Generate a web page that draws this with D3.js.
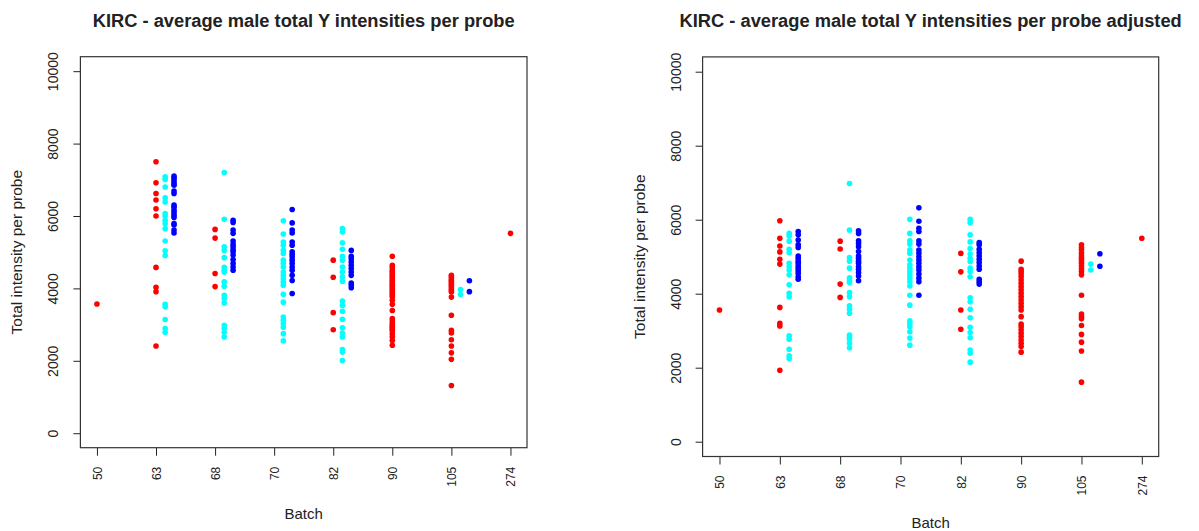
<!DOCTYPE html>
<html>
<head>
<meta charset="utf-8">
<script src="https://cdn.jsdelivr.net/npm/d3@7"></script>
<style>
    body { margin: 0; background: #fff; }
    svg text { font-family: "Liberation Sans", Arial, sans-serif; fill: #222; }
</style>
</head>
<body>
<svg id="chart" width="1199" height="531"></svg>
<script>
// batch labels along the x axis (one slot per batch)
const batches = ["50", "63", "68", "70", "82", "90", "105", "274"];
const yTicks = [0, 2000, 4000, 6000, 8000, 10000];

// raw values, one list per batch, per group
const rawA = [
    [3570],
    [7500, 6920, 6620, 6440, 6200, 6000, 4580, 4030, 3910, 2410],
    [5630, 5390, 4410, 4050],
    [],
    [4780, 4310, 3330, 2860],
    [4890, 4640, 4580, 4500, 4460, 4410, 4360, 4320, 4270, 4220, 4180, 4130, 4090, 4040, 3990, 3950,
     3900, 3860, 3810, 3760, 3670, 3560, 3390, 3170, 3100, 3030, 2980, 2930, 2880, 2840, 2750, 2660, 2560, 2430],
    [4360, 4320, 4270, 4220, 4180, 4130, 4090, 4040, 3990, 3940, 3900, 3760, 3260, 2840, 2770, 2580, 2410, 2220, 2040, 1320],
    [5520]
];
const rawB = [
    [],
    [7080, 7010, 6800, 6500, 6390, 6070, 6000, 5880, 5790, 5650, 5310, 5040, 4910, 3560, 3490, 3140, 2890, 2790],
    [7200, 5910, 5150, 5050, 4850, 4580, 4500, 4450, 4180, 4060, 3810, 3720, 3600, 2980, 2890, 2790, 2660],
    [5870, 5500, 5280, 5190, 5050, 4960, 4780, 4690, 4590, 4450, 4360, 4270, 4180, 4090, 3840, 3620, 3210, 3120, 3030, 2930, 2750, 2550],
    [5650, 5560, 5260, 5080, 4890, 4780, 4590, 4450, 4320, 4200, 3650, 3530, 3370, 3150, 2910, 2770, 2660, 2310, 2240, 2010],
    [],
    [3970, 3830],
    []
];
const rawC = [
    [],
    [7100, 7040, 6970, 6900, 6850, 6690, 6620, 6300, 6240, 6160, 6090, 6020, 5960, 5790, 5750, 5610, 5530],
    [5880, 5820, 5610, 5520, 5310, 5220, 5150, 5070, 5010, 4920, 4800, 4690, 4590, 4500],
    [6180, 5810, 5610, 5530, 5280, 5190, 5010, 4940, 4870, 4780, 4690, 4590, 4500, 4360, 4220, 3860],
    [5050, 4890, 4820, 4730, 4640, 4550, 4450, 4360, 4150, 4090, 4020],
    [],
    [4210, 3910],
    []
];

// adjusted values
const adjA = [
    [3560],
    [5970, 5500, 5290, 5130, 4930, 4800, 3630, 3200, 3130, 1930],
    [5420, 5210, 4260, 3900],
    [],
    [5090, 4590, 3560, 3040],
    [4880, 4660, 4600, 4530, 4460, 4370, 4280, 4190, 4100, 4010, 3920, 3830, 3740, 3650, 3560, 3380,
     3180, 3110, 3020, 2930, 2840, 2750, 2660, 2570, 2420],
    [5320, 5240, 5180, 5090, 5020, 4960, 4890, 4820, 4750, 4670, 4600, 4510, 3960, 3450, 3380, 3320, 3140, 2900, 2690, 2450, 1610],
    [5500]
];
const adjB = [
    [],
    [5630, 5560, 5420, 5200, 5110, 4820, 4730, 4640, 4510, 4240, 4010, 3920, 2860, 2770, 2500, 2320, 2250],
    [6980, 5720, 4980, 4880, 4690, 4430, 4370, 4300, 4030, 3920, 3670, 3580, 3470, 2880, 2820, 2770, 2660, 2540],
    [6010, 5630, 5430, 5340, 5180, 5090, 4910, 4780, 4690, 4600, 4510, 4420, 4320, 4210, 3960, 3690, 3270, 3200, 3110, 2970, 2800, 2610],
    [6010, 5920, 5590, 5400, 5220, 5070, 4960, 4870, 4690, 4600, 4460, 3890, 3780, 3580, 3350, 3090, 2950, 2810, 2480, 2390, 2150],
    [],
    [4800, 4640],
    []
];
const adjC = [
    [],
    [5680, 5590, 5450, 5320, 5250, 5020, 4960, 4880, 4820, 4750, 4690, 4620, 4550, 4460, 4390],
    [5700, 5630, 5430, 5360, 5270, 5140, 5020, 4960, 4880, 4820, 4730, 4660, 4570, 4480, 4350],
    [6320, 5960, 5770, 5680, 5430, 5340, 5180, 5090, 5000, 4910, 4820, 4730, 4640, 4530, 4420, 4320, 3960],
    [5380, 5320, 5200, 5110, 5020, 4930, 4840, 4750, 4660, 4390, 4320, 4260],
    [],
    [5080, 4740],
    []
];

const colors = ["#ff0000", "#00ffff", "#0000ff"];
const groupShift = [0, 0.155, 0.305];   // sideways shift of each group inside a batch slot

const svg = d3.select("#chart");

function drawPanel(box, title, groups) {
    const x = d3.scaleLinear()
        .domain([0.72, batches.length + 0.28])
        .range([box.left, box.right]);
    const y = d3.scaleLinear()
        .domain([-400, 10400])
        .range([box.bottom, box.top]);

    const g = svg.append("g");

    // flatten to points
    const points = [];
    groups.forEach((series, gi) => {
        series.forEach((vals, bi) => {
            vals.forEach(v => points.push({ pos: bi + 1 + groupShift[gi], value: v, color: colors[gi] }));
        });
    });

    g.selectAll("circle")
        .data(points)
        .enter()
        .append("circle")
        .attr("cx", d => x(d.pos))
        .attr("cy", d => y(d.value))
        .attr("r", 2.8)
        .attr("fill", d => d.color);

    // x axis
    const xAxis = g.append("g")
        .attr("transform", `translate(0,${box.bottom})`)
        .call(d3.axisBottom(x)
            .tickValues(d3.range(1, batches.length + 1))
            .tickFormat(i => batches[i - 1])
            .tickSize(8));
    xAxis.select(".domain").remove();
    xAxis.selectAll(".tick line").attr("stroke", "#222");
    xAxis.selectAll(".tick text")
        .attr("transform", "rotate(-90)")
        .attr("x", -19)
        .attr("y", 0)
        .attr("dy", "0.35em")
        .attr("text-anchor", "end")
        .style("font-size", "12px");

    // y axis
    const yAxis = g.append("g")
        .attr("transform", `translate(${box.left},0)`)
        .call(d3.axisLeft(y).tickValues(yTicks).tickFormat(d3.format("d")).tickSize(7));
    yAxis.select(".domain").remove();
    yAxis.selectAll(".tick line").attr("stroke", "#222");
    yAxis.selectAll(".tick text")
        .attr("transform", "rotate(-90)")
        .attr("x", 0)
        .attr("y", -22)
        .attr("dy", 0)
        .attr("text-anchor", "middle")
        .style("font-size", "14px");

    // frame
    g.append("rect")
        .attr("x", box.left)
        .attr("y", box.top)
        .attr("width", box.right - box.left)
        .attr("height", box.bottom - box.top)
        .attr("fill", "none")
        .attr("stroke", "#333")
        .attr("stroke-width", 1.2);

    const cx = (box.left + box.right) / 2;

    g.append("text")
        .attr("x", cx)
        .attr("y", 27)
        .attr("text-anchor", "middle")
        .style("font-size", "18.3px")
        .style("font-weight", "bold")
        .text(title);

    g.append("text")
        .attr("x", cx)
        .attr("y", box.bottom + 71)
        .attr("text-anchor", "middle")
        .style("font-size", "15px")
        .text("Batch");

    g.append("text")
        .attr("transform", `translate(${box.left - 58},${(box.top + box.bottom) / 2}) rotate(-90)`)
        .attr("text-anchor", "middle")
        .style("font-size", "15.5px")
        .text("Total intensity per probe");
}

drawPanel({ left: 80.4, right: 527, top: 56.7, bottom: 447.7 },
    "KIRC - average male total Y intensities per probe", [rawA, rawB, rawC]);

drawPanel({ left: 702.6, right: 1158.7, top: 56.9, bottom: 456.5 },
    "KIRC - average male total Y intensities per probe adjusted", [adjA, adjB, adjC]);
</script>
</body>
</html>
